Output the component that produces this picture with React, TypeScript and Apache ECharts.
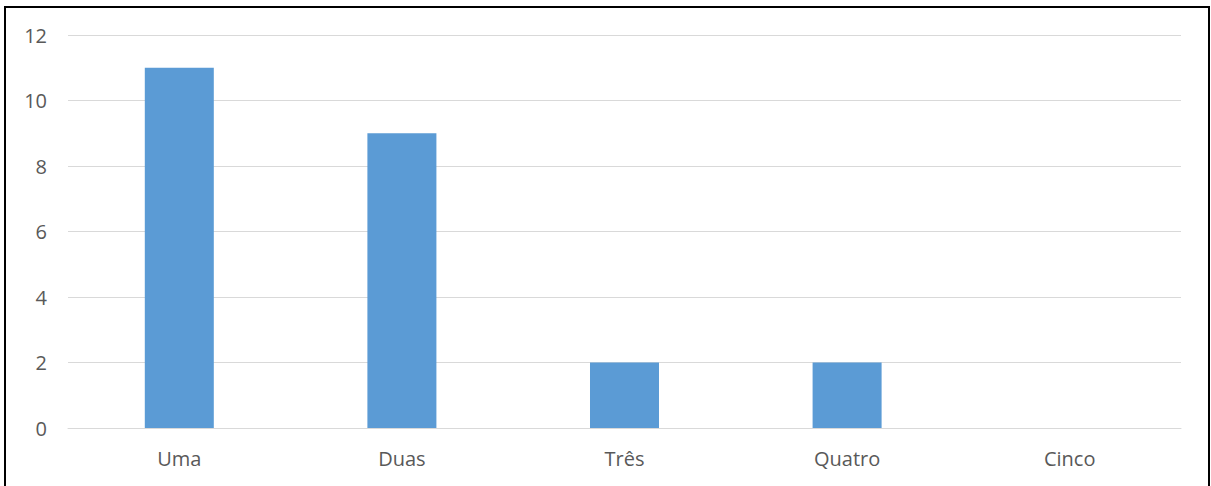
import React, { useEffect, useRef } from "react";
import * as echarts from "echarts";

const categories = ["Uma", "Duas", "Três", "Quatro", "Cinco"];
const values = [11, 9, 2, 2, 0];
const yTicks = { min: 0, max: 12, interval: 2 };

export default function App() {
  const ref = useRef<HTMLDivElement>(null);
  useEffect(() => {
    if (!ref.current) return;
    const chart = echarts.init(ref.current, null, { renderer: "svg" });
    chart.setOption({
      animation: false,
      backgroundColor: "#ffffff",
      textStyle: { fontFamily: "Open Sans, Noto Sans, sans-serif" },
      grid: { left: 68, right: 30, top: 35, bottom: 58, containLabel: false },
      xAxis: {
        type: "category",
        data: categories,
        axisLine: { show: true, lineStyle: { color: "#d9d9d9", width: 1 } },
        axisTick: { show: false },
        axisLabel: { color: "#595959", fontSize: 20, margin: 20 },
      },
      yAxis: {
        type: "value",
        min: yTicks.min,
        max: yTicks.max,
        interval: yTicks.interval,
        axisLine: { show: false },
        axisTick: { show: false },
        axisLabel: { color: "#595959", fontSize: 20, margin: 21 },
        splitLine: { lineStyle: { color: "#d9d9d9", width: 1 } },
      },
      series: [
        {
          type: "bar",
          data: values,
          barWidth: "31%",
          itemStyle: { color: "#5b9bd5" },
        },
      ],
      graphic: [
        {
          type: "rect",
          shape: { x: 5, y: 7, width: 1204, height: 490 },
          style: { fill: "none", stroke: "#000000", lineWidth: 2 },
          silent: true,
          z: 100,
        },
      ],
    });
    return () => chart.dispose();
  }, []);
  return (
    <div
      ref={ref}
      style={{ position: "absolute", left: 0, top: 0, width: 1211, height: 486 }}
    />
  );
}
